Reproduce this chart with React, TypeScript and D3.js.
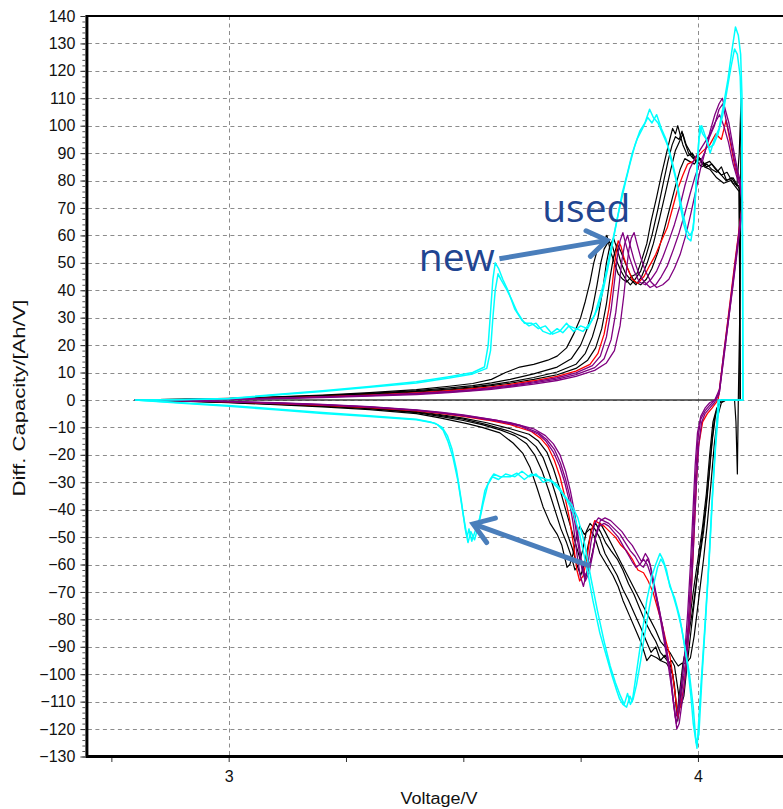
import React, { useRef, useEffect } from "react";
import * as d3 from "d3";

type Pt = [number, number];

// y axis ticks and labelled x ticks
const yTicks = [-130, -120, -110, -100, -90, -80, -70, -60, -50, -40, -30, -20, -10, 0, 10, 20, 30, 40, 50, 60, 70, 80, 90, 100, 110, 120, 130, 140];
const xTicks = [2.75, 3, 3.25, 3.5, 3.75, 4];
const xLabelTicks = [3, 4];
const zeroLine: Pt[] = [[2.8, 0], [4.043, 0]];

// new cell (cyan)
const cyan1Charge: Pt[] = [[2.8,0],[2.9,0.2],[3.0,0.5],[3.1,2],[3.2,3.4],[3.3,4.9],[3.4,6.6],[3.47,8.5],[3.52,10],[3.545,12],[3.553,20],[3.558,32],[3.563,44],[3.568,50],[3.575,48],[3.584,44],[3.595,40],[3.61,33],[3.625,29],[3.64,27],[3.655,28],[3.67,25],[3.685,24],[3.7,26],[3.712,24.5],[3.725,27],[3.74,26],[3.755,25],[3.77,28],[3.78,31],[3.79,37],[3.8,43],[3.812,53],[3.823,62],[3.833,70],[3.845,79],[3.855,86],[3.866,93],[3.876,98],[3.887,101],[3.897,106],[3.905,103],[3.915,101],[3.925,97],[3.935,93],[3.945,86],[3.955,79],[3.962,71],[3.97,64],[3.978,59],[3.985,58],[3.992,66],[3.998,85],[4.004,100],[4.01,97],[4.018,95],[4.026,90],[4.035,95],[4.045,99],[4.055,108],[4.064,117],[4.072,127],[4.08,136],[4.086,133],[4.091,126],[4.094,110],[4.095,60],[4.096,0]];
const cyan1Discharge: Pt[] = [[4.096,0],[4.085,0],[4.06,0],[4.043,0],[4.036,-20],[4.03,-37],[4.023,-60],[4.015,-82],[4.006,-105],[3.998,-127],[3.99,-118],[3.985,-108],[3.978,-97],[3.97,-88],[3.961,-79],[3.95,-72],[3.94,-68],[3.933,-62],[3.925,-58],[3.919,-56],[3.91,-60],[3.902,-64],[3.891,-73],[3.882,-84],[3.876,-91],[3.866,-103],[3.86,-110],[3.855,-108],[3.848,-112],[3.84,-111],[3.833,-109],[3.827,-106],[3.816,-100],[3.806,-94],[3.791,-85],[3.776,-73],[3.763,-61],[3.748,-49],[3.734,-41],[3.721,-36.6],[3.706,-33],[3.69,-30],[3.678,-29],[3.66,-28],[3.645,-27],[3.63,-29],[3.614,-26.7],[3.6,-28],[3.578,-28],[3.565,-27],[3.557,-29],[3.546,-33],[3.535,-43],[3.525,-48],[3.518,-51.5],[3.512,-47],[3.508,-50],[3.499,-41],[3.488,-29],[3.478,-21],[3.467,-15],[3.457,-11],[3.445,-9],[3.43,-8],[3.4,-7],[3.3,-5.8],[3.2,-4.6],[3.1,-3.3],[3.0,-2],[2.9,-1],[2.8,0]];
const cyan2Charge: Pt[] = [[2.8,0],[2.9,0.1],[3.0,0.4],[3.1,1.8],[3.2,3.1],[3.3,4.6],[3.4,6.2],[3.47,8],[3.52,9.5],[3.55,11.5],[3.558,18],[3.563,30],[3.568,40],[3.574,46],[3.58,44],[3.59,41],[3.602,37],[3.615,32],[3.63,28],[3.645,28],[3.66,26],[3.675,27],[3.69,24],[3.705,25],[3.72,28],[3.735,25],[3.75,27],[3.765,26],[3.777,30],[3.788,34],[3.798,40],[3.808,48],[3.818,57],[3.828,66],[3.838,75],[3.85,83],[3.86,90],[3.87,95],[3.882,99],[3.893,103],[3.902,101],[3.912,104],[3.922,99],[3.932,95],[3.942,89],[3.952,82],[3.96,75],[3.968,68],[3.976,62],[3.983,60],[3.99,62],[3.996,78],[4.002,95],[4.008,100],[4.016,96],[4.024,92],[4.033,93],[4.043,97],[4.053,104],[4.062,113],[4.07,121],[4.078,128],[4.084,126],[4.09,118],[4.093,100],[4.095,50],[4.096,0]];
const cyan2Discharge: Pt[] = [[4.096,0],[4.08,0],[4.06,0],[4.046,0],[4.038,-16],[4.032,-32],[4.025,-55],[4.017,-78],[4.009,-100],[4.002,-122],[3.996,-125],[3.99,-112],[3.982,-100],[3.974,-92],[3.965,-83],[3.955,-76],[3.945,-70],[3.936,-65],[3.928,-60],[3.921,-58],[3.914,-61],[3.906,-67],[3.896,-76],[3.886,-86],[3.878,-95],[3.869,-104],[3.862,-109],[3.856,-111],[3.85,-107],[3.843,-111],[3.835,-108],[3.824,-103],[3.813,-97],[3.8,-88],[3.786,-77],[3.772,-65],[3.758,-52],[3.744,-43],[3.73,-38],[3.716,-35],[3.7,-31],[3.685,-29],[3.67,-30],[3.655,-27],[3.64,-28],[3.625,-26],[3.61,-28],[3.59,-27],[3.575,-29],[3.562,-28],[3.552,-31],[3.542,-38],[3.532,-46],[3.524,-51],[3.516,-48],[3.51,-52],[3.504,-47],[3.496,-37],[3.486,-26],[3.476,-18],[3.466,-13],[3.455,-10],[3.44,-8.5],[3.4,-7.2],[3.3,-6],[3.2,-4.9],[3.1,-3.6],[3.0,-2.3],[2.9,-1.2],[2.8,0]];

// aged cells (black)
const black1Charge: Pt[] = [[2.8,0],[2.9,0.2],[3.0,0.6],[3.1,1.1],[3.2,1.8],[3.3,2.7],[3.4,3.8],[3.47,5],[3.52,6],[3.56,7.5],[3.59,10],[3.62,12],[3.65,13],[3.68,14.5],[3.7,16],[3.72,19],[3.735,24],[3.75,30],[3.76,36],[3.77,43],[3.778,50],[3.786,55],[3.795,57],[3.806,60],[3.814,54],[3.822,50],[3.83,46],[3.84,44],[3.848,43],[3.858,45],[3.87,46],[3.88,51],[3.891,57],[3.9,65],[3.912,74],[3.922,82],[3.933,90],[3.94,95],[3.946,99],[3.952,97],[3.957,100],[3.963,96],[3.968,93],[3.978,89],[3.988,90],[3.998,87],[4.008,85],[4.019,86],[4.03,84],[4.04,83],[4.05,85],[4.061,80],[4.072,81],[4.083,78],[4.088,90],[4.092,110]];
const black1Discharge: Pt[] = [[4.092,110],[4.09,40],[4.086,0],[4.084,-27],[4.081,-8],[4.078,0],[4.05,0],[4.043,-2],[4.035,-7],[4.028,-18],[4.02,-35],[4.012,-48],[4.0,-62],[3.99,-75],[3.978,-88],[3.968,-96],[3.96,-108],[3.955,-115],[3.95,-104],[3.946,-100],[3.94,-98],[3.933,-96],[3.92,-95],[3.912,-94],[3.9,-93],[3.891,-95],[3.88,-89],[3.87,-85],[3.855,-79],[3.84,-73],[3.83,-68],[3.819,-64],[3.805,-60],[3.791,-56],[3.78,-50],[3.77,-47],[3.758,-49],[3.748,-46],[3.74,-51],[3.734,-56],[3.727,-60],[3.721,-61],[3.71,-53],[3.7,-49],[3.685,-45],[3.67,-39],[3.657,-32],[3.642,-24.5],[3.627,-19.5],[3.606,-15.7],[3.578,-12],[3.54,-10],[3.508,-8.6],[3.45,-6.5],[3.4,-5],[3.3,-3.5],[3.2,-2.5],[3.1,-1.7],[3.0,-1],[2.9,-0.4],[2.8,0]];
const black2Charge: Pt[] = [[2.8,0],[2.9,0.2],[3.0,0.5],[3.1,1],[3.2,1.6],[3.3,2.4],[3.4,3.4],[3.47,4.4],[3.52,5.2],[3.56,6.2],[3.6,7.5],[3.65,9.5],[3.7,12],[3.73,15],[3.75,20],[3.764,26],[3.775,33],[3.785,42],[3.793,50],[3.8,55],[3.81,58],[3.818,56],[3.826,51],[3.836,47],[3.846,44],[3.856,42],[3.866,44],[3.878,47],[3.89,53],[3.902,60],[3.914,69],[3.926,79],[3.936,87],[3.945,93],[3.952,96],[3.96,95],[3.966,98],[3.972,94],[3.98,90],[3.99,88],[4.0,89],[4.012,86],[4.025,87],[4.038,84],[4.05,82],[4.062,83],[4.075,79],[4.088,78]];
const black2Discharge: Pt[] = [[4.09,0],[4.07,0],[4.05,0],[4.04,-3],[4.032,-8],[4.025,-20],[4.018,-34],[4.01,-46],[4.0,-58],[3.99,-70],[3.98,-83],[3.97,-95],[3.963,-108],[3.957,-117],[3.952,-108],[3.946,-100],[3.94,-96],[3.93,-93],[3.92,-95],[3.91,-90],[3.9,-92],[3.89,-88],[3.878,-83],[3.865,-78],[3.852,-73],[3.84,-69],[3.828,-64],[3.815,-60],[3.802,-56],[3.79,-50],[3.78,-47],[3.77,-45],[3.762,-48],[3.754,-55],[3.746,-60],[3.738,-62],[3.73,-57],[3.72,-52],[3.708,-47],[3.695,-40],[3.682,-33],[3.668,-26],[3.652,-20],[3.635,-16],[3.61,-13],[3.58,-11],[3.54,-9],[3.5,-7.5],[3.45,-6],[3.4,-4.6],[3.3,-3.2],[3.2,-2.3],[3.1,-1.5],[3.0,-0.9],[2.9,-0.4],[2.8,0]];
const black3Charge: Pt[] = [[2.8,0],[2.9,0.2],[3.0,0.5],[3.1,0.9],[3.2,1.5],[3.3,2.2],[3.4,3.1],[3.47,4],[3.52,4.8],[3.56,5.6],[3.6,6.6],[3.65,8.2],[3.7,10.2],[3.74,13],[3.76,17],[3.775,23],[3.787,30],[3.797,40],[3.805,50],[3.812,56],[3.82,59],[3.828,55],[3.836,50],[3.846,46],[3.856,44],[3.868,42],[3.88,45],[3.892,50],[3.905,57],[3.918,66],[3.93,75],[3.942,84],[3.952,91],[3.96,94],[3.968,97],[3.975,93],[3.985,90],[3.995,87],[4.006,88],[4.018,85],[4.03,86],[4.045,83],[4.06,80],[4.075,81],[4.088,77]];
const black3Discharge: Pt[] = [[4.09,0],[4.06,0],[4.046,-1],[4.038,-5],[4.031,-14],[4.024,-27],[4.016,-40],[4.007,-52],[3.998,-65],[3.988,-80],[3.978,-95],[3.97,-108],[3.963,-112],[3.956,-104],[3.95,-97],[3.944,-95],[3.938,-96],[3.93,-94],[3.92,-92],[3.91,-88],[3.9,-85],[3.888,-81],[3.876,-76],[3.864,-71],[3.852,-67],[3.84,-62],[3.828,-58],[3.815,-55],[3.803,-52],[3.792,-48],[3.782,-45],[3.774,-47],[3.766,-53],[3.758,-60],[3.75,-64],[3.742,-60],[3.732,-54],[3.72,-48],[3.708,-41],[3.696,-34],[3.683,-27],[3.67,-21],[3.655,-17],[3.635,-14],[3.6,-11.5],[3.55,-9],[3.5,-7],[3.45,-5.6],[3.4,-4.4],[3.3,-3],[3.2,-2.2],[3.1,-1.4],[3.0,-0.8],[2.9,-0.3],[2.8,0]];
const black4Charge: Pt[] = [[2.8,0],[2.9,0.1],[3.0,0.4],[3.1,0.8],[3.2,1.4],[3.3,2],[3.4,2.9],[3.47,3.7],[3.52,4.4],[3.56,5.2],[3.6,6.1],[3.65,7.5],[3.7,9.2],[3.74,11.5],[3.765,14.5],[3.782,19],[3.795,26],[3.805,35],[3.813,45],[3.82,52],[3.828,57],[3.836,54],[3.845,50],[3.855,46],[3.866,43],[3.878,42],[3.89,44],[3.902,48],[3.915,54],[3.928,62],[3.94,70],[3.952,78],[3.962,84],[3.972,88],[3.982,87],[3.992,86],[4.002,88],[4.014,85],[4.026,84],[4.04,81],[4.055,79],[4.07,80],[4.088,76]];
const black4Discharge: Pt[] = [[4.09,0],[4.06,0],[4.05,-1],[4.042,-6],[4.035,-16],[4.028,-30],[4.02,-45],[4.012,-58],[4.002,-72],[3.992,-86],[3.984,-94],[3.975,-96],[3.966,-96],[3.958,-97],[3.95,-95],[3.94,-92],[3.93,-90],[3.92,-88],[3.91,-84],[3.898,-80],[3.886,-76],[3.874,-72],[3.862,-68],[3.85,-64],[3.838,-60],[3.826,-56],[3.814,-52],[3.802,-48],[3.792,-45],[3.784,-48],[3.776,-55],[3.768,-61],[3.76,-65],[3.752,-60],[3.742,-54],[3.73,-47],[3.718,-40],[3.705,-32],[3.692,-25],[3.678,-19],[3.66,-15],[3.64,-12.5],[3.6,-10.5],[3.55,-8.3],[3.5,-6.6],[3.45,-5.3],[3.4,-4.2],[3.3,-2.9],[3.2,-2],[3.1,-1.3],[3.0,-0.7],[2.9,-0.3],[2.8,0]];

// red
const redCharge: Pt[] = [[2.8,0],[2.9,0.1],[3.0,0.3],[3.1,0.7],[3.2,1.2],[3.3,1.8],[3.4,2.6],[3.47,3.4],[3.52,4.1],[3.56,4.8],[3.6,5.7],[3.65,7],[3.7,8.6],[3.74,10.5],[3.77,13],[3.787,17],[3.8,24],[3.81,33],[3.818,43],[3.824,52],[3.83,58],[3.836,56],[3.842,52],[3.85,48],[3.86,44],[3.872,42.5],[3.885,45],[3.897,49],[3.91,53],[3.922,58],[3.935,63],[3.946,70],[3.957,77],[3.968,82],[3.978,86],[3.99,87],[4.0,89],[4.012,91],[4.025,93],[4.038,97],[4.05,95],[4.06,102],[4.07,93],[4.08,84],[4.09,79]];
const redDischarge: Pt[] = [[4.095,72],[4.08,52],[4.07,38],[4.06,24],[4.05,10],[4.043,0],[4.03,-3],[4.02,-5],[4.01,-8],[4.0,-18],[3.995,-36],[3.99,-55],[3.985,-72],[3.978,-90],[3.97,-105],[3.962,-112],[3.957,-116],[3.952,-108],[3.946,-100],[3.94,-93],[3.932,-88],[3.924,-82],[3.914,-76],[3.904,-70],[3.894,-66],[3.884,-63],[3.872,-62],[3.86,-58],[3.848,-55],[3.836,-53],[3.824,-50],[3.812,-48],[3.8,-46],[3.79,-45],[3.78,-44],[3.772,-48],[3.764,-57],[3.756,-64],[3.748,-66],[3.742,-62],[3.735,-53],[3.726,-43],[3.716,-35],[3.706,-28],[3.694,-22],[3.68,-17],[3.665,-14],[3.645,-11.5],[3.6,-9],[3.55,-7.3],[3.5,-6],[3.45,-4.9],[3.4,-4],[3.3,-2.8],[3.2,-2],[3.1,-1.3],[3.0,-0.7],[2.9,-0.3],[2.8,0]];

// purple
const purple1Charge: Pt[] = [[2.8,0],[2.9,0.1],[3.0,0.3],[3.1,0.6],[3.2,1.1],[3.3,1.7],[3.4,2.4],[3.47,3.1],[3.52,3.8],[3.56,4.5],[3.6,5.3],[3.65,6.6],[3.7,8.1],[3.74,9.9],[3.775,12.5],[3.792,16],[3.805,23],[3.815,33],[3.822,43],[3.828,52],[3.834,58],[3.84,61],[3.846,57],[3.854,52],[3.864,47],[3.875,43],[3.888,42],[3.9,44],[3.912,47],[3.925,52],[3.938,58],[3.95,64],[3.962,71],[3.972,78],[3.982,84],[3.993,88],[4.004,91],[4.015,94],[4.026,97],[4.036,101],[4.046,104],[4.055,100],[4.065,94],[4.075,86],[4.085,80],[4.09,78]];
const purple1Discharge: Pt[] = [[4.095,70],[4.085,56],[4.075,42],[4.065,29],[4.055,15],[4.045,2],[4.035,-1],[4.025,-3],[4.015,-5],[4.008,-8],[4.002,-16],[3.997,-30],[3.992,-48],[3.987,-66],[3.981,-84],[3.975,-98],[3.968,-108],[3.96,-118],[3.955,-120],[3.949,-112],[3.943,-104],[3.936,-96],[3.928,-88],[3.92,-80],[3.912,-73],[3.904,-66],[3.898,-60],[3.892,-58],[3.884,-61],[3.876,-60],[3.866,-57],[3.856,-55],[3.845,-52],[3.834,-49],[3.822,-47],[3.81,-45],[3.798,-44],[3.788,-43],[3.78,-45],[3.772,-52],[3.764,-62],[3.756,-68],[3.749,-64],[3.742,-56],[3.734,-45],[3.726,-37],[3.716,-30],[3.705,-24],[3.692,-19],[3.676,-15],[3.66,-12.5],[3.62,-9.5],[3.57,-7.6],[3.5,-5.8],[3.45,-4.7],[3.4,-3.8],[3.3,-2.6],[3.2,-1.8],[3.1,-1.2],[3.0,-0.6],[2.9,-0.3],[2.8,0]];
const purple2Charge: Pt[] = [[2.8,0],[2.9,0.1],[3.0,0.3],[3.1,0.6],[3.2,1],[3.3,1.6],[3.4,2.2],[3.47,2.9],[3.52,3.5],[3.56,4.2],[3.6,5],[3.65,6.2],[3.7,7.6],[3.74,9.2],[3.78,11.8],[3.8,15],[3.815,22],[3.825,32],[3.832,42],[3.838,51],[3.844,57],[3.85,60],[3.856,56],[3.864,51],[3.874,46],[3.886,43],[3.898,41],[3.91,42],[3.922,45],[3.935,49],[3.948,55],[3.96,61],[3.972,68],[3.983,75],[3.993,81],[4.003,86],[4.014,90],[4.025,96],[4.035,100],[4.045,106],[4.053,108],[4.06,102],[4.068,96],[4.077,88],[4.086,81],[4.09,79]];
const purple2Discharge: Pt[] = [[4.095,71],[4.085,57],[4.075,43],[4.065,29],[4.055,16],[4.046,3],[4.036,0],[4.025,-2],[4.015,-4],[4.006,-7],[4.0,-14],[3.995,-28],[3.99,-46],[3.985,-64],[3.979,-82],[3.973,-96],[3.966,-106],[3.959,-114],[3.954,-118],[3.948,-110],[3.942,-100],[3.934,-92],[3.926,-84],[3.918,-77],[3.91,-70],[3.902,-63],[3.895,-58],[3.888,-56],[3.88,-59],[3.87,-56],[3.86,-53],[3.85,-51],[3.838,-48],[3.826,-46],[3.814,-44],[3.802,-43],[3.792,-44],[3.784,-48],[3.776,-56],[3.768,-63],[3.76,-66],[3.753,-62],[3.745,-53],[3.737,-44],[3.728,-36],[3.718,-29],[3.707,-23],[3.694,-18],[3.678,-14.5],[3.66,-12],[3.62,-9.2],[3.57,-7.4],[3.5,-5.6],[3.45,-4.6],[3.4,-3.7],[3.3,-2.5],[3.2,-1.7],[3.1,-1.1],[3.0,-0.6],[2.9,-0.2],[2.8,0]];
const purple3Charge: Pt[] = [[2.8,0],[2.9,0.1],[3.0,0.2],[3.1,0.5],[3.2,0.9],[3.3,1.4],[3.4,2],[3.47,2.7],[3.52,3.3],[3.56,3.9],[3.6,4.7],[3.65,5.8],[3.7,7.1],[3.74,8.6],[3.78,10.8],[3.805,13.5],[3.822,18],[3.834,27],[3.842,38],[3.848,48],[3.853,55],[3.858,59],[3.864,61],[3.87,57],[3.878,52],[3.888,47],[3.9,43],[3.912,41],[3.925,42],[3.938,44],[3.95,48],[3.962,53],[3.974,60],[3.985,68],[3.995,76],[4.005,84],[4.016,91],[4.026,98],[4.036,104],[4.045,108],[4.052,110],[4.058,106],[4.066,101],[4.075,92],[4.084,84],[4.09,80]];
const purple3Discharge: Pt[] = [[4.095,72],[4.085,58],[4.075,44],[4.065,30],[4.055,17],[4.046,4],[4.036,0],[4.025,-1],[4.015,-3],[4.006,-6],[3.999,-12],[3.994,-24],[3.989,-42],[3.984,-60],[3.978,-78],[3.972,-92],[3.965,-103],[3.958,-112],[3.952,-116],[3.946,-108],[3.94,-98],[3.932,-90],[3.924,-82],[3.916,-75],[3.908,-69],[3.9,-64],[3.892,-60],[3.884,-58],[3.876,-60],[3.868,-61],[3.86,-59],[3.85,-56],[3.84,-53],[3.83,-50],[3.82,-48],[3.81,-46],[3.8,-45],[3.79,-46],[3.782,-50],[3.774,-57],[3.766,-62],[3.759,-64],[3.752,-59],[3.745,-50],[3.737,-41],[3.728,-33],[3.718,-26],[3.706,-20],[3.692,-16],[3.675,-13],[3.65,-10.5],[3.6,-8.3],[3.55,-6.8],[3.5,-5.4],[3.45,-4.4],[3.4,-3.6],[3.3,-2.4],[3.2,-1.6],[3.1,-1],[3.0,-0.5],[2.9,-0.2],[2.8,0]];

const series = [
  { color: "#000000", width: 1.2, pts: [black1Charge, black1Discharge] },
  { color: "#000000", width: 1.2, pts: [black2Charge, black2Discharge] },
  { color: "#000000", width: 1.2, pts: [black3Charge, black3Discharge] },
  { color: "#000000", width: 1.2, pts: [black4Charge, black4Discharge] },
  { color: "#ff0000", width: 1.3, pts: [redCharge, redDischarge] },
  { color: "#800080", width: 1.3, pts: [purple1Charge, purple1Discharge] },
  { color: "#800080", width: 1.3, pts: [purple2Charge, purple2Discharge] },
  { color: "#800080", width: 1.3, pts: [purple3Charge, purple3Discharge] },
  { color: "#00ffff", width: 1.5, pts: [cyan1Charge, cyan1Discharge] },
  { color: "#00ffff", width: 1.5, pts: [cyan2Charge, cyan2Discharge] },
];

// annotations in data units: [start, tip]
const arrowUsed: Pt[] = [[3.577, 51.5], [3.806, 58.2]];
const arrowNew: Pt[] = [[3.77, -60.5], [3.521, -45.2]];
const labelUsed: Pt = [3.668, 65];
const labelNew: Pt = [3.405, 47.2];

const W = 783;
const H = 809;
const axisFont = "'Liberation Sans', Arial, sans-serif";

const App = () => {
  const ref = useRef<SVGSVGElement>(null);

  useEffect(() => {
    const svg = d3.select(ref.current);
    svg.selectAll("*").remove();

    const x = d3.scaleLinear().domain([2.7, 4.2]).range([87.9, 791.8]);
    const y = d3.scaleLinear().domain([-130, 140]).range([756.5, 16]);
    const left = x(2.7);
    const top = y(140);
    const bottom = y(-130);
    const right = x(4.2);

    svg.append("rect").attr("width", W).attr("height", H).attr("fill", "#fff");

    svg.append("clipPath").attr("id", "plot")
      .append("rect").attr("x", left).attr("y", top).attr("width", right - left).attr("height", bottom - top);

    const grid = svg.append("g").attr("stroke", "#8c8c8c").attr("stroke-width", 1).attr("stroke-dasharray", "4,3.5");
    grid.selectAll("line.h").data(yTicks.filter((t) => t > -130 && t < 140)).enter()
      .append("line")
      .attr("x1", left).attr("x2", right)
      .attr("y1", (d) => Math.round(y(d)) + 0.5).attr("y2", (d) => Math.round(y(d)) + 0.5);
    grid.selectAll("line.v").data(xLabelTicks).enter()
      .append("line")
      .attr("y1", top).attr("y2", bottom)
      .attr("x1", (d) => Math.round(x(d)) + 0.5).attr("x2", (d) => Math.round(x(d)) + 0.5);

    const line = d3.line<Pt>().x((d) => x(d[0])).y((d) => y(d[1]));
    const plot = svg.append("g").attr("clip-path", "url(#plot)");

    plot.append("path").attr("d", line(zeroLine)).attr("fill", "none")
      .attr("stroke", "#3a3a3a").attr("stroke-width", 1.5);

    series.forEach((s) => {
      plot.append("path")
        .attr("d", line([...s.pts[0], ...s.pts[1]]))
        .attr("fill", "none")
        .attr("stroke", s.color)
        .attr("stroke-width", s.width)
        .attr("stroke-linejoin", "round");
    });

    // frame
    svg.append("line").attr("x1", left).attr("x2", W + 10).attr("y1", top).attr("y2", top)
      .attr("stroke", "#000").attr("stroke-width", 2);
    svg.append("line").attr("x1", left - 1.5).attr("x2", W + 10).attr("y1", bottom).attr("y2", bottom)
      .attr("stroke", "#000").attr("stroke-width", 3);
    svg.append("line").attr("x1", left - 1).attr("x2", left - 1).attr("y1", top - 1).attr("y2", bottom + 1.5)
      .attr("stroke", "#000").attr("stroke-width", 3);

    const yMinor = svg.append("g").attr("transform", `translate(${left - 2.5},0)`)
      .call(d3.axisLeft(y).tickValues(d3.range(-130, 141, 2)).tickSize(3).tickFormat(() => ""));
    yMinor.select(".domain").remove();
    yMinor.selectAll("line").attr("stroke", "#555");

    const yAxis = svg.append("g").attr("transform", `translate(${left - 2.5},0)`)
      .call(d3.axisLeft(y).tickValues(yTicks).tickSize(5).tickPadding(5));
    yAxis.select(".domain").remove();
    yAxis.selectAll("line").attr("stroke", "#333");
    yAxis.selectAll("text").attr("font-family", axisFont).attr("font-size", 16).attr("fill", "#111");

    const xAxis = svg.append("g").attr("transform", `translate(0,${bottom + 1.5})`)
      .call(d3.axisBottom(x).tickValues(xTicks).tickSize(4).tickFormat((d) => (xLabelTicks.includes(+d) ? String(d) : "")).tickPadding(9));
    xAxis.select(".domain").remove();
    xAxis.selectAll("line").attr("stroke", "#333");
    xAxis.selectAll("text").attr("font-family", axisFont).attr("font-size", 16).attr("fill", "#111");

    svg.append("text").attr("x", 439).attr("y", 804).attr("text-anchor", "middle")
      .attr("font-family", axisFont).attr("font-size", 16).attr("fill", "#111")
      .attr("textLength", 77).attr("lengthAdjust", "spacingAndGlyphs")
      .text("Voltage/V");
    svg.append("text").attr("transform", "translate(25,398) rotate(-90)").attr("text-anchor", "middle")
      .attr("font-family", axisFont).attr("font-size", 16).attr("fill", "#111")
      .attr("textLength", 197).attr("lengthAdjust", "spacingAndGlyphs")
      .text("Diff. Capacity/[Ah/V]");

    // annotation arrows
    const arrowColor = "#4a7ebb";
    [arrowUsed, arrowNew].forEach((a) => {
      const [x0, y0] = [x(a[0][0]), y(a[0][1])];
      const [x1, y1] = [x(a[1][0]), y(a[1][1])];
      const ang = Math.atan2(y1 - y0, x1 - x0);
      const len = 23;
      const spread = 0.6;
      const p1: [number, number] = [x1 - len * Math.cos(ang - spread), y1 - len * Math.sin(ang - spread)];
      const p2: [number, number] = [x1 - len * Math.cos(ang + spread), y1 - len * Math.sin(ang + spread)];
      svg.append("line").attr("x1", x0).attr("y1", y0).attr("x2", x1 - 3 * Math.cos(ang)).attr("y2", y1 - 3 * Math.sin(ang))
        .attr("stroke", arrowColor).attr("stroke-width", 5);
      svg.append("path").attr("d", d3.line()([p1, [x1, y1], p2]))
        .attr("fill", "none").attr("stroke", arrowColor).attr("stroke-width", 5)
        .attr("stroke-linejoin", "miter").attr("stroke-linecap", "round");
    });

    const noteFont = "'Open Sans', 'Noto Sans', sans-serif";
    svg.append("text").attr("x", x(labelUsed[0])).attr("y", y(labelUsed[1]))
      .attr("font-family", noteFont).attr("font-size", 39).attr("fill", "#1f4591")
      .text("used");
    svg.append("text").attr("x", x(labelNew[0])).attr("y", y(labelNew[1]))
      .attr("font-family", noteFont).attr("font-size", 39).attr("fill", "#1f4591")
      .text("new");
  }, []);

  return (
    <svg
      ref={ref}
      width={W}
      height={H}
      style={{ position: "absolute", left: 0, top: 0, display: "block" }}
    />
  );
};

export default App;
